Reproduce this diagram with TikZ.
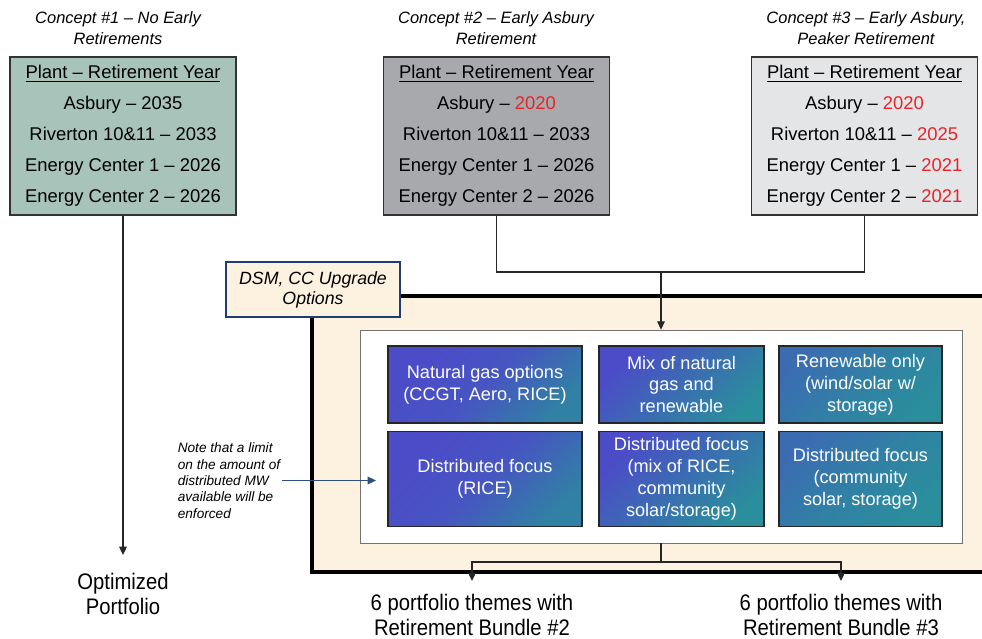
\documentclass[tikz,border=0pt]{standalone}
\usepackage{fontspec}
\setmainfont{Liberation Sans}
\newfontfamily\narrowfont[FakeStretch=0.9]{Liberation Sans}
\usetikzlibrary{arrows.meta}

\definecolor{sagegray}{HTML}{A8C3BA}
\definecolor{midgray}{HTML}{A7A9AC}
\definecolor{lightgray}{HTML}{E4E5E7}
\definecolor{cream}{HTML}{FDF2E0}
\definecolor{navy}{HTML}{1F3D6E}
\definecolor{notearrow}{HTML}{2E4E7E}
\definecolor{retred}{HTML}{E8232A}
\definecolor{purp}{HTML}{4C4BC8}
\definecolor{tealb}{HTML}{2A8E9C}

\newcommand{\yr}[1]{\textcolor{retred}{#1}}

\tikzset{
	plantbox/.style={draw=black!80, line width=1.1pt, minimum width=5.65cm, minimum height=3.95cm,
		align=center, font=\fontsize{13.1}{22}\selectfont},
	concept/.style={align=center, font=\fontsize{11.7}{15}\selectfont\itshape},
	theme/.style={draw=black!85, line width=1pt, text=white, align=center, inner sep=1pt,
		font=\fontsize{12.9}{15.6}\selectfont},
	colA/.style={theme, minimum width=4.85cm, top color=purp, bottom color=tealb!80!purp, middle color=purp!85!tealb, shading angle=45},
	colB/.style={theme, minimum width=4.12cm, top color=purp, bottom color=tealb, middle color=purp!50!tealb, shading angle=45},
	colC/.style={theme, minimum width=4.07cm, top color=purp!50!tealb, bottom color=tealb, middle color=purp!20!tealb, shading angle=45},
	rowA/.style={minimum height=1.925cm},
	rowB/.style={minimum height=2.37cm},
	result/.style={align=center, font=\narrowfont\fontsize{16}{17.2}\selectfont},
	line/.style={draw=black!85, line width=0.9pt},
}

\begin{document}
\begin{tikzpicture}[x=0.025cm, y=-0.025cm, >={Triangle[length=6pt,width=5.5pt]}]
	\useasboundingbox (0,0) rectangle (982,639);
	
	%concept titles
	\node[concept] (t1) at (118,28.5) {Concept \#1 -- No Early\\Retirements};
	\node[concept] (t2) at (496,28.5) {Concept \#2 -- Early Asbury\\Retirement};
	\node[concept] (t3) at (866,28.5) {Concept \#3 -- Early Asbury,\\Peaker Retirement};
	
	%retirement year boxes
	\node[plantbox, fill=sagegray] (c1) at (123,136) {\underline{Plant -- Retirement Year}\\Asbury -- 2035\\Riverton 10\&11 -- 2033\\Energy Center 1 -- 2026\\Energy Center 2 -- 2026};
	\node[plantbox, fill=midgray] (c2) at (496.5,136) {\underline{Plant -- Retirement Year}\\Asbury -- \yr{2020}\\Riverton 10\&11 -- 2033\\Energy Center 1 -- 2026\\Energy Center 2 -- 2026};
	\node[plantbox, fill=lightgray] (c3) at (864.5,136) {\underline{Plant -- Retirement Year}\\Asbury -- \yr{2020}\\Riverton 10\&11 -- \yr{2025}\\Energy Center 1 -- \yr{2021}\\Energy Center 2 -- \yr{2021}};
	
	%outer options area
	\fill[cream] (312,296) rectangle (982,572);
	\draw[line width=2.6pt] (984,296) -- (312,296) -- (312,572) -- (984,572);
	\node[draw=black!55, fill=white, minimum width=15.05cm, minimum height=5.325cm] (inner) at (661,436.5) {};
	
	%dsm label
	\node[draw=navy, line width=1.6pt, fill=cream, minimum width=4.35cm, minimum height=1.375cm, align=center,
		font=\fontsize{12.6}{14.2}\selectfont\itshape] (dsm) at (313,289.5) {DSM, CC Upgrade\\Options};
	
	%portfolio themes
	\node[colA, rowA] (g1) at (485,384.5) {Natural gas options\\(CCGT, Aero, RICE)};
	\node[colB, rowA] (g2) at (681.5,384.5) {Mix of natural\\gas and\\renewable};
	\node[colC, rowA] (g3) at (860.5,384.5) {Renewable only\\(wind/solar w/\\storage)};
	\node[colA, rowB] (d1) at (485,479) {Distributed focus\\(RICE)};
	\node[colB, rowB] (d2) at (681.5,479) {Distributed focus\\(mix of RICE,\\community\\solar/storage)};
	\node[colC, rowB] (d3) at (860.5,479) {Distributed focus\\(community\\solar, storage)};
	
	%note
	\node[align=left, inner sep=1pt, font=\fontsize{9.7}{11.6}\selectfont\itshape] (note) at (229,480.5)
		{Note that a limit\\on the amount of\\distributed MW\\available will be\\enforced};
	\draw[notearrow, line width=0.8pt, ->, shorten >=8pt] (note.east) -- (note.east -| d1.west);
	
	%results
	\node[result] (opt) at (123,594) {Optimized\\Portfolio};
	\node[result] (b2) at (472,615) {6 portfolio themes with\\Retirement Bundle \#2};
	\node[result] (b3) at (841,615) {6 portfolio themes with\\Retirement Bundle \#3};
	
	%connectors
	\coordinate (optin) at (123,555);
	\draw[line, ->] (c1.south) -- (optin);
	\coordinate (jtop) at (661,272);
	\draw[line] (c2.south) |- (jtop) -| (c3.south);
	\draw[line, ->] (jtop) -- (inner.north);
	\coordinate (jbot) at (661,562);
	\draw[line] (inner.south) -- (jbot);
	\coordinate (b2in) at (472,581);
	\coordinate (b3in) at (841,581);
	\draw[line, ->] (jbot) -| (b2in);
	\draw[line, ->] (jbot) -| (b3in);
	
\end{tikzpicture}
\end{document}
